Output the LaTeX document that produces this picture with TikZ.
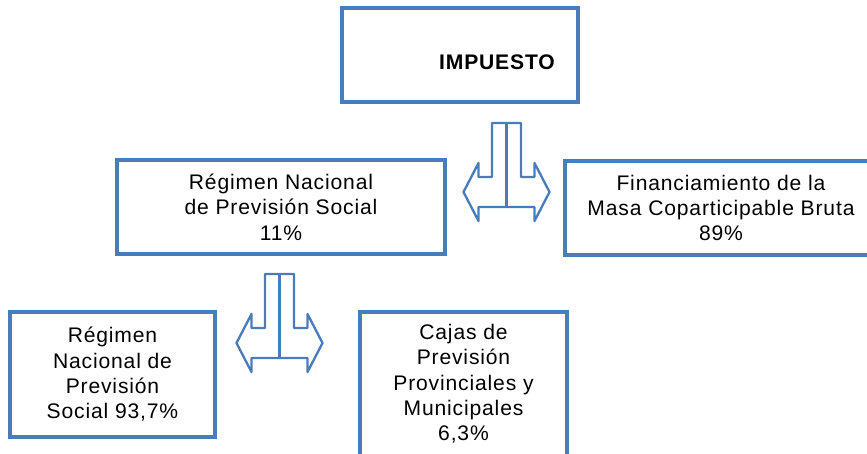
\documentclass[tikz,border=0pt]{standalone}
\usepackage{fontspec}
\setmainfont{Liberation Sans}[LetterSpace=4]
\definecolor{boxblue}{RGB}{74,124,187}

\begin{document}
\begin{tikzpicture}[
    x=0.03cm, y=-0.03cm,
    every node/.style={align=center, font=\fontsize{18}{21.6}\selectfont},
    blue box/.style={draw=boxblue, line width=3pt, inner sep=0pt},
    arrow line/.style={draw=boxblue, line width=2pt, line join=round},
    splitarrow/.pic={
        \path[arrow line] (-14.5,0) -- (14.5,0) -- (14.5,54) -- (28,54) -- (28,40)
            -- (43,69) -- (28,98) -- (28,84) -- (-28,84) -- (-28,98) -- (-43,69)
            -- (-28,40) -- (-28,54) -- (-14.5,54) -- cycle;
        \path[arrow line] (0,0) -- (0,84);
    },
    ]
\useasboundingbox (0,0) rectangle (867,454);
\clip (0,0) rectangle (867,454);
\node[blue box, minimum width=7.08cm, minimum height=2.82cm] (impuesto) at (460,55) {};
\node[font=\fontsize{18}{21.6}\bfseries] (impuestoTxt) at (497,62) {IMPUESTO};
\node[blue box, minimum width=9.84cm, minimum height=2.82cm] (rnps) at (281,207)
    {Régimen Nacional\\de Previsión Social\\11\%};
\node[blue box, minimum width=9.36cm, minimum height=2.82cm] (financiamiento) at (721,208)
    {Financiamiento de la\\Masa Coparticipable Bruta\\89\%};
\pic (splitTop) at (506.5,123) {splitarrow};
\node[blue box, minimum width=6.15cm, minimum height=3.75cm] (rnpsB) at (112.5,374.5)
    {Régimen\\Nacional de\\Previsión\\Social 93,7\%};
\node[blue box, minimum width=6.21cm, minimum height=4.32cm] (cajas) at (463.5,384)
    {Cajas de\\Previsión\\Provinciales y\\Municipales\\6,3\%};
\pic (splitLow) at (279.5,274) {splitarrow};
\end{tikzpicture}
\end{document}
